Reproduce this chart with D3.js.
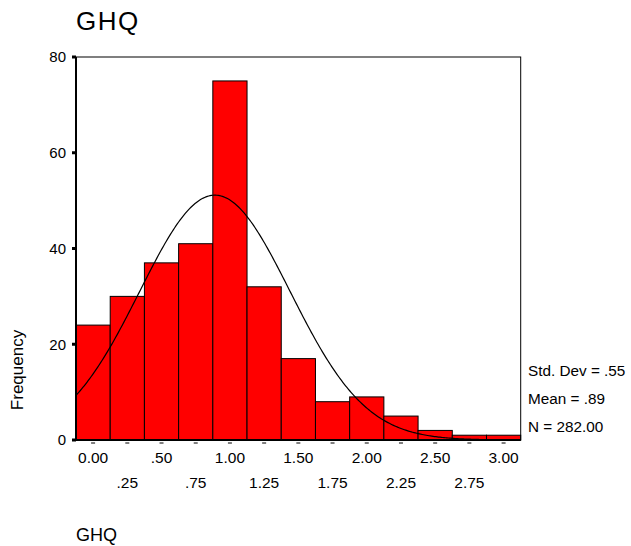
<!DOCTYPE html>
<html>
<head>
<meta charset="utf-8">
<script src="https://cdn.jsdelivr.net/npm/d3@7"></script>
<style>
  body { margin: 0; background: #fff; }
  svg text { font-family: "Liberation Sans", Arial, sans-serif; fill: #000; }
</style>
</head>
<body>
<div id="container"></div>
<script>
// Histogram data (bin centres and counts)
const binCenters = [0, 0.25, 0.5, 0.75, 1.0, 1.25, 1.5, 1.75, 2.0, 2.25, 2.5, 2.75, 3.0];
const counts = [24, 30, 37, 41, 75, 32, 17, 8, 9, 5, 2, 1, 1];
const yTicks = [0, 20, 40, 60, 80];
const xTickRow1 = ['0.00', '.50', '1.00', '1.50', '2.00', '2.50', '3.00'];
const xTickRow2 = ['.25', '.75', '1.25', '1.75', '2.25', '2.75'];
const statLabels = ['Std. Dev = .55', 'Mean = .89', 'N = 282.00'];
const stdDev = 0.55;
const mean = 0.89;
const nCases = 282;
const binWidth = 0.25;

const W = 631, H = 546;
const plot = { left: 76, right: 520.7, top: 57, bottom: 440 };

const svg = d3.select('#container')
  .append('svg')
  .attr('width', W)
  .attr('height', H);

const x = d3.scaleLinear()
  .domain([-0.125, 3.125])
  .range([plot.left, plot.right]);

const y = d3.scaleLinear()
  .domain([0, 80])
  .range([plot.bottom, plot.top]);

// Title
svg.append('text')
  .attr('x', 76)
  .attr('y', 30)
  .style('font-size', '26px')
  .style('letter-spacing', '1.5px')
  .text('GHQ');

// Bars
svg.selectAll('.bar')
  .data(binCenters)
  .enter()
  .append('rect')
  .attr('class', 'bar')
  .attr('x', d => x(d - binWidth / 2))
  .attr('y', (d, i) => y(counts[i]))
  .attr('width', d => x(d + binWidth / 2) - x(d - binWidth / 2))
  .attr('height', (d, i) => y(0) - y(counts[i]))
  .attr('fill', '#ff0000')
  .attr('stroke', '#000')
  .attr('stroke-width', 1);

// Normal curve from the reported statistics
const peak = nCases * binWidth / (stdDev * Math.sqrt(2 * Math.PI));
const curveXs = d3.range(-0.125, 3.1251, 0.01);
const line = d3.line()
  .x(d => x(d))
  .y(d => y(peak * Math.exp(-0.5 * Math.pow((d - mean) / stdDev, 2))));

svg.append('path')
  .datum(curveXs)
  .attr('d', line)
  .attr('fill', 'none')
  .attr('stroke', '#000')
  .attr('stroke-width', 1.2);

// Frame
svg.append('rect')
  .attr('x', plot.left)
  .attr('y', plot.top)
  .attr('width', plot.right - plot.left)
  .attr('height', plot.bottom - plot.top)
  .attr('fill', 'none')
  .attr('stroke', '#000')
  .attr('stroke-width', 1);

svg.append('line')
  .attr('x1', plot.left).attr('x2', plot.left)
  .attr('y1', plot.top).attr('y2', plot.bottom + 1)
  .attr('stroke', '#000').attr('stroke-width', 2);

svg.append('line')
  .attr('x1', plot.left - 1).attr('x2', plot.right)
  .attr('y1', plot.bottom).attr('y2', plot.bottom)
  .attr('stroke', '#000').attr('stroke-width', 2);

// Y axis
const yAxis = d3.axisLeft(y)
  .tickValues(yTicks)
  .tickSize(0)
  .tickPadding(10)
  .tickFormat(d3.format('d'));

const gy = svg.append('g')
  .attr('transform', `translate(${plot.left}, 0)`)
  .call(yAxis);
gy.select('.domain').remove();
gy.selectAll('text')
  .style('font-size', '15px')
  .style('font-family', '"Liberation Sans", Arial, sans-serif');

svg.selectAll('.ytick-mark')
  .data(yTicks)
  .enter()
  .append('rect')
  .attr('class', 'ytick-mark')
  .attr('x', plot.left - 4)
  .attr('y', d => y(d) - 1.5)
  .attr('width', 4)
  .attr('height', 3)
  .attr('fill', '#000');

// X axis tick marks (small dashes under each bin)
svg.selectAll('.xtick-mark')
  .data(binCenters)
  .enter()
  .append('line')
  .attr('class', 'xtick-mark')
  .attr('x1', d => x(d) - 2)
  .attr('x2', d => x(d) + 2)
  .attr('y1', plot.bottom + 3)
  .attr('y2', plot.bottom + 3)
  .attr('stroke', '#000')
  .attr('stroke-width', 1);

// X tick labels in two rows
const row1 = binCenters.filter((d, i) => i % 2 === 0);
const row2 = binCenters.filter((d, i) => i % 2 === 1);

svg.selectAll('.xlab1')
  .data(row1)
  .enter()
  .append('text')
  .attr('class', 'xlab1')
  .attr('x', d => x(d))
  .attr('y', 463)
  .attr('text-anchor', 'middle')
  .style('font-size', '15.5px')
  .text((d, i) => xTickRow1[i]);

svg.selectAll('.xlab2')
  .data(row2)
  .enter()
  .append('text')
  .attr('class', 'xlab2')
  .attr('x', d => x(d))
  .attr('y', 488)
  .attr('text-anchor', 'middle')
  .style('font-size', '15.5px')
  .text((d, i) => xTickRow2[i]);

// Y axis title
svg.append('text')
  .attr('transform', 'translate(23, 370) rotate(-90)')
  .attr('text-anchor', 'middle')
  .style('font-size', '17px')
  .text('Frequency');

// Statistics
svg.selectAll('.stat')
  .data(statLabels)
  .enter()
  .append('text')
  .attr('class', 'stat')
  .attr('x', 528)
  .attr('y', (d, i) => 376 + i * 28)
  .style('font-size', '15.3px')
  .text(d => d);

// X axis title
svg.append('text')
  .attr('x', 76)
  .attr('y', 541)
  .style('font-size', '18px')
  .text('GHQ');
</script>
</body>
</html>
